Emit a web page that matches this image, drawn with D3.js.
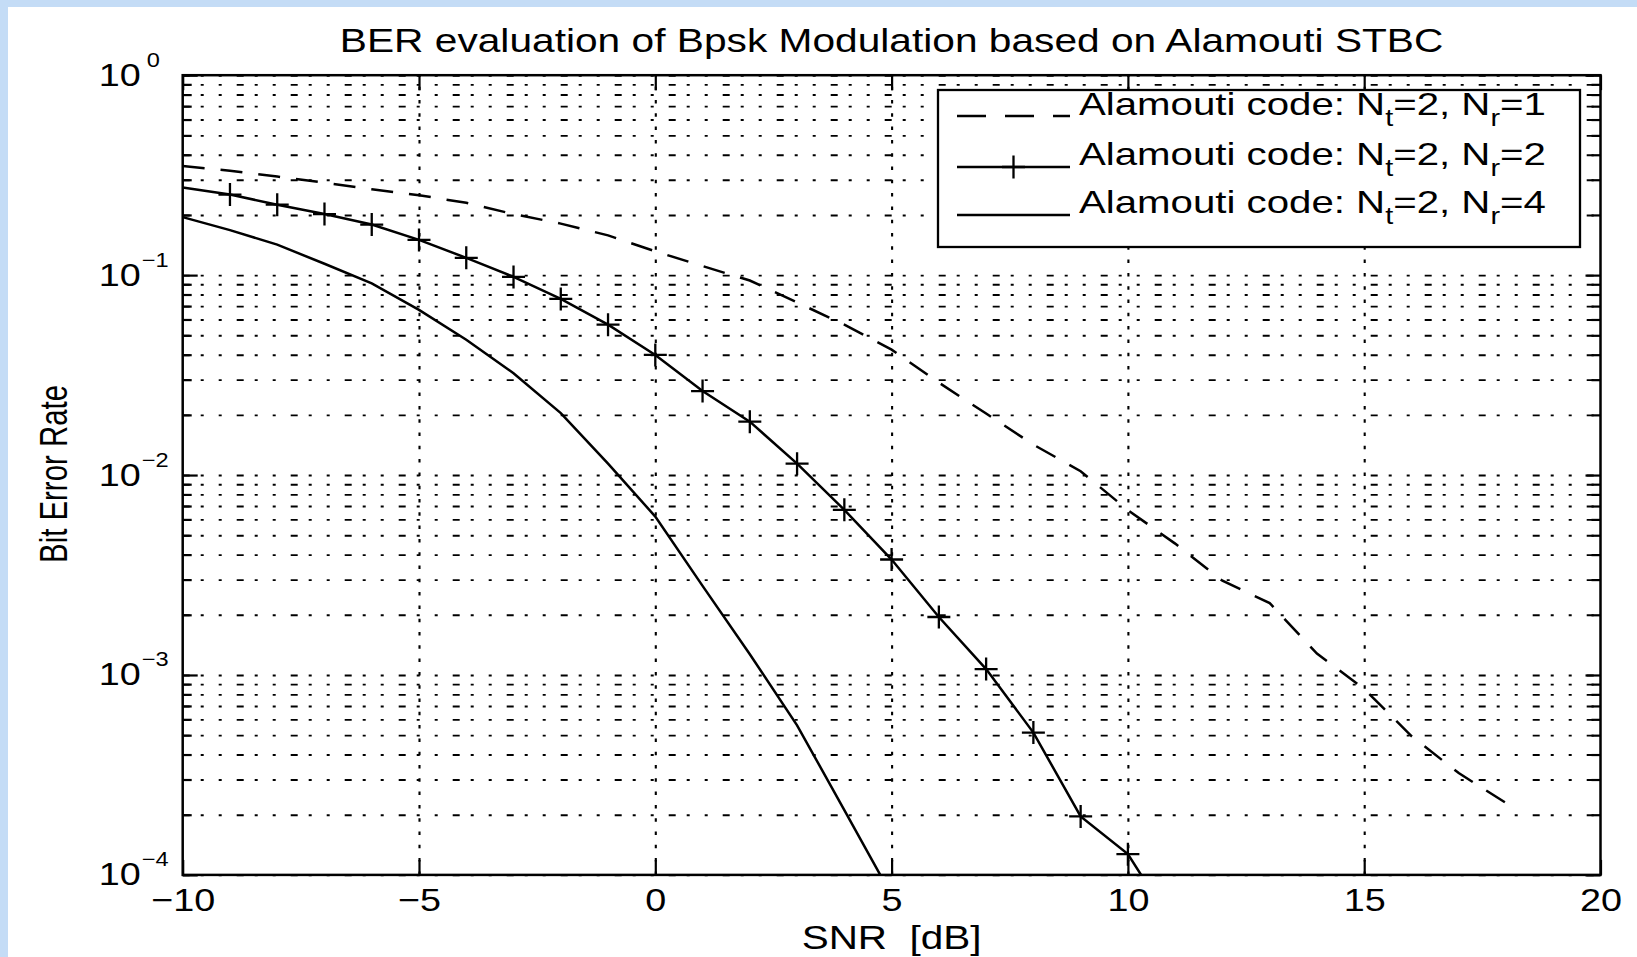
<!DOCTYPE html>
<html>
<head>
<meta charset="utf-8">
<script src="https://cdn.jsdelivr.net/npm/d3@7"></script>
<style>
html,body{margin:0;padding:0;background:#fff;}
svg{display:block;}
text{font-family:"Liberation Sans",Arial,Helvetica,sans-serif;fill:#000;}
</style>
</head>
<body>
<svg id="chart" width="1637" height="957"></svg>
<script>
// ---------------- data ----------------
const snrNr1 = [-10,-9,-8,-7,-6,-5,-4,-3,-2,-1,0,1,2,3,4,5,6,7,8,9,10,11,12,13,14,15,16,17,18];
const berNr1 = [0.351,0.333,0.311,0.290,0.269,0.251,0.230,0.202,0.181,0.158,0.1315,0.111,0.094,0.073,0.0565,0.0424,0.029,0.0203,0.0142,0.01045,0.00668,0.00454,0.00296,0.00229,0.00128,0.00085,0.000495,0.000323,0.000229];

const snrNr2 = [-10,-9,-8,-7,-6,-5,-4,-3,-2,-1,0,1,2,3,4,5,6,7,8,9,10,11];
const berNr2 = [0.274,0.253,0.225,0.202,0.179,0.150,0.122,0.098,0.076,0.0565,0.0399,0.0263,0.0185,0.0114,0.0067,0.00378,0.00195,0.00107,0.000515,0.000196,0.000127,0.000054];
const markerSnrNr2 = [-9,-8,-7,-6,-5,-4,-3,-2,-1,0,1,2,3,4,5,6,7,8,9,10,11];

const snrNr4 = [-10,-9,-8,-7,-6,-5,-4,-3,-2,-1,0,1,2,3,4,5];
const berNr4 = [0.195,0.168,0.142,0.114,0.091,0.067,0.0475,0.0323,0.0204,0.0114,0.0062,0.00279,0.00127,0.00056,0.000211,0.000079];

const xTicks = [-10,-5,0,5,10,15,20];
const xTickLabels = ["\u221210","\u22125","0","5","10","15","20"];
const yDecades = [1e-4,1e-3,1e-2,1e-1,1];
const yExponents = ["\u22124","\u22123","\u22122","\u22121","0"];
const minorMultipliers = [2,3,4,5,6,7,8,9];

const titleText = "BER evaluation of Bpsk Modulation based on Alamouti STBC";
const xLabelText = "SNR\u00a0\u00a0[dB]";
const yLabelText = "Bit Error Rate";
const legendNt = ["2","2","2"];
const legendNr = ["1","2","4"];

// ---------------- layout ----------------
const W = 1637, H = 957;
const X0 = 182.7, X1 = 1600.5, Y0 = 75.2, Y1 = 874.9;
const TEXT_STRETCH = 1.18;

const svg = d3.select("#chart");
svg.append("rect").attr("width",W).attr("height",H).attr("fill","#fff");
svg.append("rect").attr("x",0).attr("y",0).attr("width",W).attr("height",7).attr("fill","#c4dcf6");
svg.append("rect").attr("x",0).attr("y",0).attr("width",8).attr("height",H).attr("fill","#c4dcf6");

const x = d3.scaleLinear().domain([-10,20]).range([X0,X1]);
const y = d3.scaleLog().domain([1e-4,1]).range([Y1,Y0]);

const yMinor = [];
yDecades.slice(0,4).forEach(d => minorMultipliers.forEach(m => yMinor.push(m*d)));
const yAll = yDecades.concat(yMinor);

// clip
svg.append("defs").append("clipPath").attr("id","plotclip")
  .append("rect").attr("x",X0).attr("y",Y0).attr("width",X1-X0).attr("height",Y1-Y0);

// ---------------- grid ----------------
const gridY = svg.append("g").attr("transform",`translate(${X0},0)`)
  .call(d3.axisLeft(y).tickValues(yAll).tickSize(-(X1-X0)).tickFormat(""));
gridY.select(".domain").remove();
gridY.selectAll("line").attr("stroke","#000").attr("stroke-width",1.9)
  .attr("stroke-dasharray","7,11,3,15,3,15");

const gridX = svg.append("g").attr("transform",`translate(0,${Y1})`)
  .call(d3.axisBottom(x).tickValues(xTicks.slice(1,-1)).tickSize(-(Y1-Y0)).tickFormat(""));
gridX.select(".domain").remove();
gridX.selectAll("line").attr("stroke","#000").attr("stroke-width",2.1)
  .attr("stroke-dasharray","3.5,9.8");

// ---------------- curves ----------------
const plot = svg.append("g").attr("clip-path","url(#plotclip)");
const lineGen = d3.line().x(d => x(d[0])).y(d => y(d[1]));

plot.append("path").datum(d3.zip(snrNr1,berNr1)).attr("d",lineGen)
  .attr("fill","none").attr("stroke","#000").attr("stroke-width",2.5)
  .attr("stroke-dasharray","22,16");
plot.append("path").datum(d3.zip(snrNr2,berNr2)).attr("d",lineGen)
  .attr("fill","none").attr("stroke","#000").attr("stroke-width",2.5);
plot.append("path").datum(d3.zip(snrNr4,berNr4)).attr("d",lineGen)
  .attr("fill","none").attr("stroke","#000").attr("stroke-width",2.5);

const plusPath = "M-11.5,0H11.5M0,-11.5V11.5";
plot.selectAll(".mk").data(markerSnrNr2.map(s => [s, berNr2[snrNr2.indexOf(s)]]))
  .enter().append("path").attr("class","mk")
  .attr("transform",d => `translate(${x(d[0])},${y(d[1])})`)
  .attr("d",plusPath).attr("stroke","#000").attr("stroke-width",2.3).attr("fill","none");

// ---------------- axes ----------------
function styleAxis(g){
  g.select(".domain").remove();
  g.selectAll("line").attr("stroke","#000").attr("stroke-width",2.2);
}
// bottom
const axB = svg.append("g").attr("transform",`translate(0,${Y1})`)
  .call(d3.axisBottom(x).tickValues(xTicks).tickSize(-15).tickSizeOuter(0)
        .tickFormat((d,i) => xTickLabels[i]));
styleAxis(axB);
axB.selectAll("text").attr("y",36).attr("dy",0)
  .attr("font-size",32).attr("text-anchor","middle")
  .attr("transform",`scale(${TEXT_STRETCH},1)`)
  .attr("font-family","Liberation Sans, Arial, sans-serif").attr("fill","#000");
// top
const axT = svg.append("g").attr("transform",`translate(0,${Y0})`)
  .call(d3.axisTop(x).tickValues(xTicks).tickSize(-15).tickSizeOuter(0).tickFormat(""));
styleAxis(axT);
// left major + minor
const axL = svg.append("g").attr("transform",`translate(${X0},0)`)
  .call(d3.axisLeft(y).tickValues(yDecades).tickSize(-15).tickSizeOuter(0).tickFormat(""));
styleAxis(axL);
const axLm = svg.append("g").attr("transform",`translate(${X0},0)`)
  .call(d3.axisLeft(y).tickValues(yMinor).tickSize(-9).tickSizeOuter(0).tickFormat(""));
styleAxis(axLm);
// right major + minor
const axR = svg.append("g").attr("transform",`translate(${X1},0)`)
  .call(d3.axisRight(y).tickValues(yDecades).tickSize(-15).tickSizeOuter(0).tickFormat(""));
styleAxis(axR);
const axRm = svg.append("g").attr("transform",`translate(${X1},0)`)
  .call(d3.axisRight(y).tickValues(yMinor).tickSize(-9).tickSizeOuter(0).tickFormat(""));
styleAxis(axRm);

// y tick labels 10^k
axL.selectAll(".tick").each(function(d){
  const i = yDecades.indexOf(d);
  const t = d3.select(this);
  t.append("text").attr("transform",`translate(-42,10) scale(${TEXT_STRETCH},1)`)
    .attr("text-anchor","end").attr("font-size",32).attr("fill","#000").text("10");
  t.append("text").attr("transform",`translate(${yExponents[i]==="0"?-36:-41},-9) scale(${TEXT_STRETCH},1)`)
    .attr("text-anchor","start").attr("font-size",20).attr("fill","#000").text(yExponents[i]);
});

// box
svg.append("rect").attr("x",X0).attr("y",Y0).attr("width",X1-X0).attr("height",Y1-Y0)
  .attr("fill","none").attr("stroke","#000").attr("stroke-width",2.5);

// ---------------- labels ----------------
function fitText(sel, target, anchorX, anchorY, extra){
  const len = sel.node().getComputedTextLength();
  const s = target/len;
  sel.attr("transform",`translate(${anchorX},${anchorY}) ${extra||""} scale(${s},1)`);
}
const title = svg.append("text").attr("text-anchor","middle").attr("font-size",34).text(titleText);
fitText(title, 1104, (X0+X1)/2, 52);

const xl = svg.append("text").attr("text-anchor","middle").attr("font-size",34).text(xLabelText);
fitText(xl, 180, (X0+X1)/2, 949);

const yl = svg.append("text").attr("text-anchor","middle").attr("font-size",38).text(yLabelText);
fitText(yl, 178, 67, 474, "rotate(-90)");

// ---------------- legend ----------------
const LX0 = 938, LY0 = 90, LX1 = 1580, LY1 = 247;
const leg = svg.append("g");
leg.append("rect").attr("x",LX0).attr("y",LY0).attr("width",LX1-LX0).attr("height",LY1-LY0)
  .attr("fill","#fff").attr("stroke","#000").attr("stroke-width",2.3);

const rowLineY = [116,167,215];
const rowTextY = [115,165,213];
const sampleX0 = 957, sampleX1 = 1070, textX = 1079;

leg.append("line").attr("x1",sampleX0).attr("x2",sampleX1).attr("y1",rowLineY[0]).attr("y2",rowLineY[0])
  .attr("stroke","#000").attr("stroke-width",2.4).attr("stroke-dasharray","29,19");
leg.append("line").attr("x1",sampleX0).attr("x2",sampleX1).attr("y1",rowLineY[1]).attr("y2",rowLineY[1])
  .attr("stroke","#000").attr("stroke-width",2.4);
leg.append("path").attr("transform",`translate(${(sampleX0+sampleX1)/2},${rowLineY[1]})`)
  .attr("d",plusPath).attr("stroke","#000").attr("stroke-width",2.3);
leg.append("line").attr("x1",sampleX0).attr("x2",sampleX1).attr("y1",rowLineY[2]).attr("y2",rowLineY[2])
  .attr("stroke","#000").attr("stroke-width",2.4);

let legScale = null;
legendNr.forEach((nr,i) => {
  const t = leg.append("text").attr("font-size",32).attr("text-anchor","start");
  t.append("tspan").text("Alamouti code: N");
  t.append("tspan").attr("font-size",23).attr("dy",11).text("t");
  t.append("tspan").attr("dy",-11).text("=" + legendNt[i] + ", N");
  t.append("tspan").attr("font-size",23).attr("dy",11).text("r");
  t.append("tspan").attr("dy",-11).text("=" + nr);
  if (legScale === null) legScale = 467 / t.node().getComputedTextLength();
  t.attr("transform",`translate(${textX},${rowTextY[i]}) scale(${legScale},1)`);
});
</script>
</body>
</html>
